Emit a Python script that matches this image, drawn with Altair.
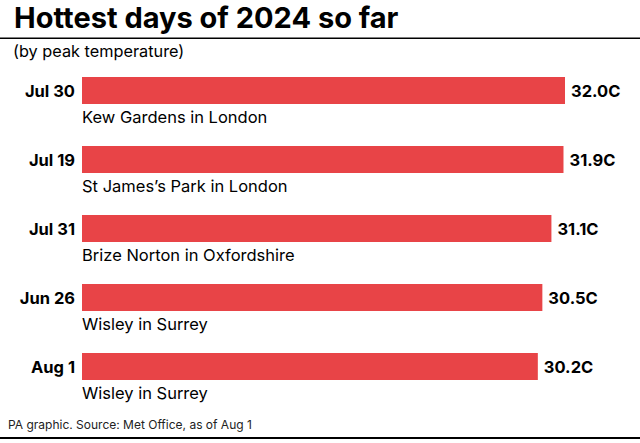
import altair as alt
import pandas as pd

dates = ["Jul 30", "Jul 19", "Jul 31", "Jun 26", "Aug 1"]
temps = [32.0, 31.9, 31.1, 30.5, 30.2]
places = ["Kew Gardens in London", "St James\u2019s Park in London",
          "Brize Norton in Oxfordshire", "Wisley in Surrey", "Wisley in Surrey"]

TITLE = "Hottest days of 2024 so far"
SUBTITLE = "(by peak temperature)"
SOURCE = "PA graphic. Source: Met Office, as of Aug 1"

FONT = "Inter"
RED = "#E84447"

df = pd.DataFrame({
    "date": dates,
    "temp": temps,
    "place": places,
    "label": [f"{t:.1f}C" for t in temps],
})

base = alt.Chart(df).encode(
    y=alt.Y("date:N", sort=dates,
            scale=alt.Scale(paddingInner=0, paddingOuter=0), axis=None)
)
xenc = alt.X("temp:Q", scale=alt.Scale(domain=[0, 32], nice=False, zero=True), axis=None)

bars = base.mark_bar(size=27, color=RED).encode(x=xenc)

values = base.mark_text(align="left", baseline="middle", dx=6, dy=1, font=FONT,
                        fontSize=16.5, fontWeight="bold", color="black").encode(
    x=xenc, text="label:N")

datelbl = base.mark_text(align="right", baseline="middle", dx=-7, dy=1, font=FONT,
                         fontSize=16.5, fontWeight="bold", color="black").encode(
    x=alt.value(0), text="date:N")

placelbl = base.mark_text(align="left", baseline="alphabetic", dy=32.5, font=FONT,
                          fontSize=16.5, color="black").encode(
    x=alt.value(0), text="place:N")

one = pd.DataFrame({"t": [TITLE], "s": [SUBTITLE], "src": [SOURCE]})

title = alt.Chart(one).mark_text(align="left", baseline="alphabetic", font=FONT,
                                 fontSize=29, fontWeight="bold", color="black").encode(
    x=alt.value(-68), y=alt.value(-28), text="t:N")
subtitle = alt.Chart(one).mark_text(align="left", baseline="alphabetic", font=FONT,
                                    fontSize=16.3, color="black").encode(
    x=alt.value(-69), y=alt.value(1), text="s:N")
source = alt.Chart(one).mark_text(align="left", baseline="alphabetic", font=FONT,
                                  fontSize=12, color="#222222").encode(
    x=alt.value(-74), y=alt.value(373), text="src:N")

top_rule = alt.Chart(one).mark_rule(color="black", strokeWidth=1.5).encode(
    x=alt.value(-82), x2=alt.value(558), y=alt.value(-17.7))
bottom_rule = alt.Chart(one).mark_rule(color="black", strokeWidth=2).encode(
    x=alt.value(-82), x2=alt.value(558), y=alt.value(382))

chart = alt.layer(bars, values, datelbl, placelbl, title, subtitle, source,
                  top_rule, bottom_rule).properties(
    width=483, height=345,
    padding={"left": 82, "top": 56, "right": 75, "bottom": 42},
    autosize=alt.AutoSizeParams(type="none"),
    background="white",
).configure_view(stroke=None)

chart.save("out.html", embed_options={"renderer": "svg", "actions": False})
